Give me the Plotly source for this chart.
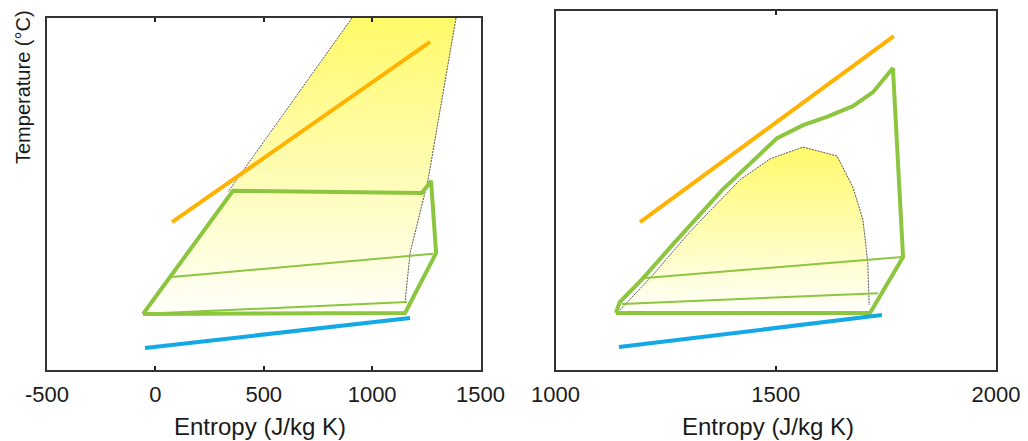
import plotly.graph_objects as go

# ---------------- Left panel data (entropy J/kg K, temperature arbitrary units) ----------------
L_fill_s = [907, 345, -57, 1152, 1175, 1258, 1387, 907]
L_fill_t = [100, 51.0, 15.9, 16.2, 33.2, 54.0, 100, 100]
L_sat_left_s = [907, 335]
L_sat_left_t = [100, 50.6]
L_sat_right_s = [1387, 1258, 1175, 1152]
L_sat_right_t = [100, 54.0, 33.2, 19.3]
L_hot_s = [77, 1267]
L_hot_t = [42.0, 93.2]
L_cold_s = [-48, 1175]
L_cold_t = [6.25, 14.8]
L_cycle_s = [-57, 358, 1230, 1272, 1295, 1152, -57]
L_cycle_t = [15.9, 50.9, 50.3, 53.7, 33.2, 16.2, 15.9]
L_thin1_s = [77, 1281]
L_thin1_t = [26.4, 33.0]
L_thin2_s = [-40, 1161]
L_thin2_t = [16.0, 19.3]

# ---------------- Right panel data ----------------
R_dome_s = [1146, 1220, 1305, 1419, 1487, 1562, 1639, 1675, 1698, 1709, 1712]
R_dome_t = [16.7, 26.3, 38.5, 53.0, 58.8, 62.1, 59.6, 51.0, 41.8, 29.8, 18.1]
R_hot_s = [1192, 1768]
R_hot_t = [41.2, 93.0]
R_cold_s = [1144, 1741]
R_cold_t = [6.4, 15.3]
R_cycle_s = [1137, 1146, 1199, 1265, 1378, 1503, 1562, 1616, 1675, 1721, 1766, 1789, 1714, 1137]
R_cycle_t = [15.9, 18.9, 25.6, 34.8, 50.1, 64.6, 68.2, 70.5, 73.5, 77.4, 84.1, 31.5, 15.9, 15.9]
R_thin1_s = [1203, 1787]
R_thin1_t = [25.6, 31.5]
R_thin2_s = [1151, 1732]
R_thin2_t = [18.4, 21.4]

L_ticks = [-500, 0, 500, 1000, 1500]
R_ticks = [1000, 1500, 2000]

GREEN = "#8cc63f"
ORANGE = "#ffb300"
BLUE = "#12a9e6"
GRAY = "#555555"
grad = dict(type="vertical", colorscale=[[0, "rgba(255,255,250,1)"], [1, "rgb(255,250,105)"]])
DOT = "2px,1px"

fig = go.Figure()

def add(xs, ys, xa, ya, **kw):
    fig.add_trace(go.Scatter(x=xs, y=ys, xaxis=xa, yaxis=ya, mode="lines",
                             showlegend=False, hoverinfo="skip", **kw))

# left
add(L_fill_s, L_fill_t, "x", "y", fill="toself", fillgradient=grad, line=dict(width=0))
add(L_sat_left_s, L_sat_left_t, "x", "y", line=dict(color=GRAY, width=1, dash=DOT))
add(L_sat_right_s, L_sat_right_t, "x", "y", line=dict(color=GRAY, width=1, dash=DOT))
add(L_thin1_s, L_thin1_t, "x", "y", line=dict(color=GREEN, width=2))
add(L_thin2_s, L_thin2_t, "x", "y", line=dict(color=GREEN, width=2))
add(L_hot_s, L_hot_t, "x", "y", line=dict(color=ORANGE, width=4))
add(L_cycle_s, L_cycle_t, "x", "y", line=dict(color=GREEN, width=4))
add(L_cold_s, L_cold_t, "x", "y", line=dict(color=BLUE, width=4))

# right
add(R_dome_s + [R_dome_s[-1], R_dome_s[0]], R_dome_t + [16.0, 16.0], "x2", "y2",
    fill="toself", fillgradient=grad, line=dict(width=0))
add(R_dome_s, R_dome_t, "x2", "y2", line=dict(color=GRAY, width=1, dash=DOT))
add(R_thin1_s, R_thin1_t, "x2", "y2", line=dict(color=GREEN, width=2))
add(R_thin2_s, R_thin2_t, "x2", "y2", line=dict(color=GREEN, width=2))
add(R_hot_s, R_hot_t, "x2", "y2", line=dict(color=ORANGE, width=4))
add(R_cycle_s, R_cycle_t, "x2", "y2", line=dict(color=GREEN, width=4))
add(R_cold_s, R_cold_t, "x2", "y2", line=dict(color=BLUE, width=4))

W, H = 1028, 441
FONT = "Arial, Liberation Sans, sans-serif"

def xax(domain, rng, ticks, anchor):
    return dict(domain=domain, range=rng, tickvals=ticks, ticktext=[str(t) for t in ticks],
                showline=True, linecolor="#333", linewidth=1.5, mirror="ticks",
                ticks="inside", ticklen=4, tickwidth=1.5, tickcolor="#222",
                showgrid=False, zeroline=False, anchor=anchor, automargin=False,
                ticklabelstandoff=4,
                tickfont=dict(family=FONT, size=22, color="#1a1a1a"))

def yax(domain, anchor):
    return dict(domain=domain, range=[0, 100], showline=True, linecolor="#333", linewidth=1.5,
                mirror=True, ticks="", showticklabels=False, showgrid=False,
                zeroline=False, anchor=anchor, automargin=False)

fig.update_layout(
    width=W, height=H, margin=dict(l=0, r=0, t=0, b=0, pad=0, autoexpand=False),
    paper_bgcolor="white", plot_bgcolor="white",
    xaxis=xax([47 / W, 480.5 / W], [-500, 1500], L_ticks, "y"),
    yaxis=yax([(H - 370) / H, (H - 18) / H], "x"),
    xaxis2=xax([555.5 / W, 996 / W], [1000, 2000], R_ticks, "y2"),
    yaxis2=yax([(H - 370) / H, (H - 11) / H], "x2"),
    annotations=[
        dict(text="Temperature (°C)", x=23 / W, y=1 - 87 / H, xref="paper", yref="paper",
             textangle=-90, showarrow=False, font=dict(family=FONT, size=20, color="#1a1a1a"),
             xanchor="center", yanchor="middle"),
        dict(text="Entropy (J/kg K)", x=260 / W, y=1 - 426 / H, xref="paper", yref="paper",
             showarrow=False, font=dict(family=FONT, size=24, color="#1a1a1a"),
             xanchor="center", yanchor="middle"),
        dict(text="Entropy (J/kg K)", x=768 / W, y=1 - 426 / H, xref="paper", yref="paper",
             showarrow=False, font=dict(family=FONT, size=24, color="#1a1a1a"),
             xanchor="center", yanchor="middle"),
    ],
)

fig.write_html("out.html")
